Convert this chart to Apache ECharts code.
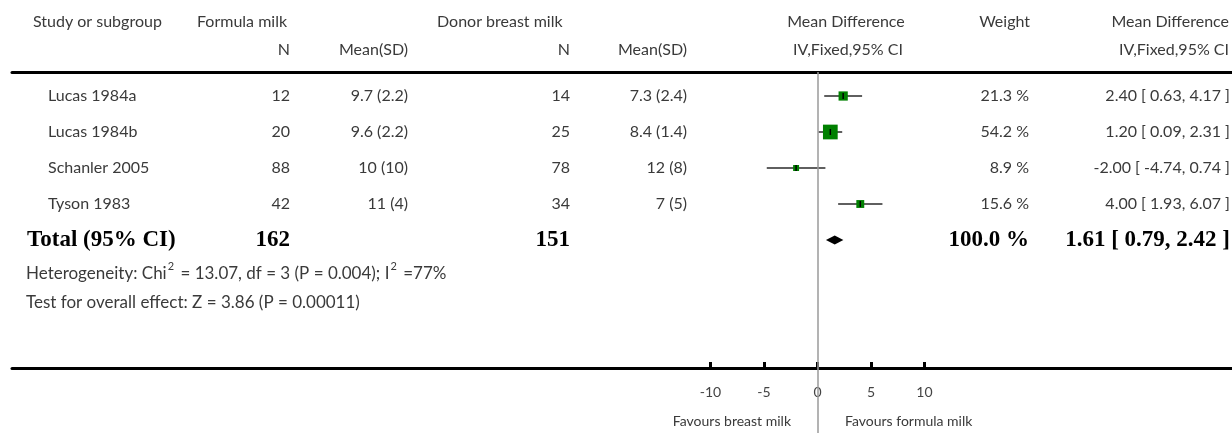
<!DOCTYPE html>
<html>
<head>
<meta charset="utf-8">
<script src="https://cdn.jsdelivr.net/npm/echarts@6/dist/echarts.min.js"></script>
<style>
  html, body { margin: 0; padding: 0; background: #fff; }
  #chart { width: 1232px; height: 433px; }
</style>
</head>
<body>
<div id="chart"></div>
<script>
// Study-level data
const studies = ['Lucas 1984a', 'Lucas 1984b', 'Schanler 2005', 'Tyson 1983'];
const formulaN = [12, 20, 88, 42];
const formulaMeanSD = ['9.7 (2.2)', '9.6 (2.2)', '10 (10)', '11 (4)'];
const donorN = [14, 25, 78, 34];
const donorMeanSD = ['7.3 (2.4)', '8.4 (1.4)', '12 (8)', '7 (5)'];
const weights = [21.3, 54.2, 8.9, 15.6];
const meanDiff = [2.40, 1.20, -2.00, 4.00];
const ciLow = [0.63, 0.09, -4.74, 1.93];
const ciHigh = [4.17, 2.31, 0.74, 6.07];

// Pooled estimate
const totalFormulaN = 162;
const totalDonorN = 151;
const totalWeight = 100.0;
const totalMD = 1.61;
const totalLow = 0.79;
const totalHigh = 2.42;

// Axis ticks
const xTicks = [-10, -5, 0, 5, 10];

const SANS = 'Lato, "Open Sans", sans-serif';
const SERIF = '"Liberation Serif", "DejaVu Serif", serif';
const TXT = '#3a3a3a';
const FS = 16;

// footnote lines (rich text for superscripts)
const heterogeneityText = '{n|Heterogeneity: Chi}{sup|2}{n| = 13.07, df = 3 (P = 0.004); I}{sup|2}{n| =77%}';
const overallText = 'Test for overall effect: Z = 3.86 (P = 0.00011)';

// column anchors (pixels)
const COL = { study: 48, n1: 290, m1: 408, n2: 570, m2: 687, w: 1029, ci: 1230 };

function fmtCI(m, l, h) {
  return m.toFixed(2) + ' [ ' + l.toFixed(2) + ', ' + h.toFixed(2) + ' ]';
}
function fmtW(w) { return w.toFixed(1) + ' %'; }

function txt(x, y, text, align, opts) {
  opts = opts || {};
  const style = {
    text: text,
    fill: opts.fill || TXT,
    font: opts.font || (FS + 'px ' + SANS),
    textAlign: align, align: align,
    textVerticalAlign: 'middle', verticalAlign: 'middle'
  };
  if (opts.rich) style.rich = opts.rich;
  return { type: 'text', x: x, y: y, silent: true, style: style };
}

const noteFont = '17px ' + SANS;
const noteRich = {
  n: { fontSize: 17, fontFamily: SANS, fill: TXT, lineHeight: 22, verticalAlign: 'bottom' },
  sup: { fontSize: 11, fontFamily: SANS, fill: TXT, lineHeight: 22, verticalAlign: 'top', padding: [1, 2, 0, 1] }
};

const studyRows = studies.map((s, i) => [meanDiff[i], i, ciLow[i], ciHigh[i], weights[i]]);
const totalRowIndex = studies.length;

const chart = echarts.init(document.getElementById('chart'), null, { renderer: 'canvas' });

const xMin = -75.28, xMax = 38.74;

const option = {
  animation: false,
  backgroundColor: '#fff',
  grid: { left: 12, right: 0, top: 72, bottom: 0, containLabel: false },
  xAxis: [
    {
      type: 'value', position: 'bottom', offset: -65,
      min: xMin, max: xMax,
      axisLine: { show: true, onZero: false, lineStyle: { color: '#000', width: 3 } },
      axisTick: { show: true, inside: true, length: 6, customValues: xTicks, lineStyle: { color: '#000', width: 3 } },
      axisLabel: {
        show: true, customValues: xTicks, margin: 17,
        color: '#444', fontSize: 14, fontFamily: SANS,
        formatter: v => String(v)
      },
      splitLine: { show: false }
    },
    {
      type: 'value', position: 'top',
      min: xMin, max: xMax,
      axisLine: { show: true, onZero: false, lineStyle: { color: '#000', width: 3 } },
      axisTick: { show: false },
      axisLabel: { show: false },
      splitLine: { show: false }
    }
  ],
  yAxis: {
    type: 'value', inverse: true,
    min: -0.6667, max: 9.3611,
    show: false
  },
  graphic: {
    elements: [
      txt(33, 22, 'Study or subgroup', 'left'),
      txt(197, 22, 'Formula milk', 'left'),
      txt(COL.n1, 50, 'N', 'right'),
      txt(COL.m1, 50, 'Mean(SD)', 'right'),
      txt(437, 22, 'Donor breast milk', 'left'),
      txt(COL.n2, 50, 'N', 'right'),
      txt(COL.m2, 50, 'Mean(SD)', 'right'),
      txt(846, 22, 'Mean Difference', 'center'),
      txt(848, 50, 'IV,Fixed,95% CI', 'center'),
      txt(1030, 22, 'Weight', 'right'),
      txt(1229, 22, 'Mean Difference', 'right'),
      txt(1229, 50, 'IV,Fixed,95% CI', 'right'),
      txt(26, 271, heterogeneityText, 'left', { font: noteFont, rich: noteRich }),
      txt(26, 303, overallText, 'left', { font: noteFont }),
      txt(791, 421, 'Favours breast milk', 'right', { font: '14px ' + SANS }),
      txt(845, 421, 'Favours formula milk', 'left', { font: '14px ' + SANS })
    ]
  },
  series: [
    // table cells for each study, aligned on the row scale
    {
      type: 'custom',
      silent: true,
      clip: false,
      data: studies.map((s, i) => [0, i]),
      renderItem: function (params, api) {
        const i = params.dataIndex;
        const y = api.coord([0, i])[1];
        return {
          type: 'group',
          children: [
            txt(COL.study, y, studies[i], 'left'),
            txt(COL.n1, y, String(formulaN[i]), 'right'),
            txt(COL.m1, y, formulaMeanSD[i], 'right'),
            txt(COL.n2, y, String(donorN[i]), 'right'),
            txt(COL.m2, y, donorMeanSD[i], 'right'),
            txt(COL.w, y, fmtW(weights[i]), 'right'),
            txt(COL.ci, y, fmtCI(meanDiff[i], ciLow[i], ciHigh[i]), 'right')
          ]
        };
      }
    },
    // pooled row
    {
      type: 'custom',
      silent: true,
      clip: false,
      data: [[0, totalRowIndex]],
      renderItem: function (params, api) {
        const y = api.coord([0, totalRowIndex])[1];
        const bold = 'bold 23px ' + SERIF;
        return {
          type: 'group',
          children: [
            txt(27, y, 'Total (95% CI)', 'left', { font: bold, fill: '#000' }),
            txt(COL.n1, y, String(totalFormulaN), 'right', { font: bold, fill: '#000' }),
            txt(COL.n2, y, String(totalDonorN), 'right', { font: bold, fill: '#000' }),
            txt(COL.w, y, fmtW(totalWeight), 'right', { font: bold, fill: '#000' }),
            txt(COL.ci, y, fmtCI(totalMD, totalLow, totalHigh), 'right', { font: bold, fill: '#000' })
          ]
        };
      }
    },
    // study estimates with confidence intervals
    {
      type: 'custom',
      silent: true,
      data: studyRows,
      encode: { x: [0, 2, 3], y: 1 },
      renderItem: function (params, api) {
        const row = api.value(1);
        const c = api.coord([api.value(0), row]);
        const lo = api.coord([api.value(2), row]);
        const hi = api.coord([api.value(3), row]);
        const s = 2 * Math.sqrt(api.value(4));
        return {
          type: 'group',
          children: [
            { type: 'line', shape: { x1: lo[0], y1: lo[1], x2: hi[0], y2: hi[1] }, style: { stroke: '#5f5f5f', lineWidth: 2 } },
            { type: 'rect', shape: { x: c[0] - s / 2, y: c[1] - s / 2, width: s, height: s }, style: { fill: '#008000' } },
            { type: 'line', shape: { x1: c[0], y1: c[1] - 3, x2: c[0], y2: c[1] + 3 }, style: { stroke: '#000', lineWidth: 1.5 } }
          ]
        };
      },
      markLine: {
        silent: true,
        symbol: 'none',
        label: { show: false },
        lineStyle: { color: '#9a9a9a', width: 1.5, type: 'solid' },
        data: [{ xAxis: 0 }]
      }
    },
    // pooled diamond
    {
      type: 'custom',
      silent: true,
      data: [[totalMD, totalRowIndex, totalLow, totalHigh]],
      encode: { x: [0, 2, 3], y: 1 },
      renderItem: function (params, api) {
        const row = api.value(1);
        const c = api.coord([api.value(0), row]);
        const lo = api.coord([api.value(2), row]);
        const hi = api.coord([api.value(3), row]);
        return {
          type: 'polygon',
          shape: { points: [[lo[0], lo[1]], [c[0], c[1] - 4.5], [hi[0], hi[1]], [c[0], c[1] + 4.5]] },
          style: { fill: '#000' }
        };
      }
    }
  ]
};

chart.setOption(option);
</script>
</body>
</html>
